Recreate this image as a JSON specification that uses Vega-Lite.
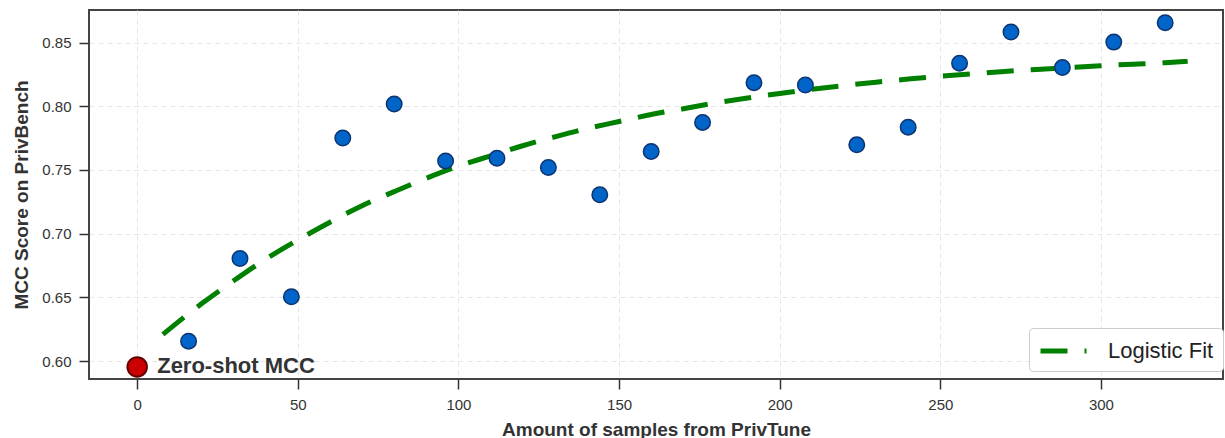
{
  "$schema": "https://vega.github.io/schema/vega-lite/v6.json",
  "width": 1134,
  "height": 369,
  "autosize": {"type": "none"},
  "padding": {"left": 89, "top": 10, "right": 2, "bottom": 59},
  "background": "white",
  "config": {
    "font": "Liberation Sans",
    "view": {"stroke": "#444444", "strokeWidth": 2},
    "axis": {
      "domain": false,
      "grid": true,
      "gridColor": "#e6e6e6",
      "gridDash": [5, 4],
      "gridWidth": 1,
      "tickColor": "#333333",
      "tickWidth": 1.5,
      "tickSize": 10,
      "labelFontSize": 15,
      "labelColor": "#333333",
      "titleFontSize": 19,
      "titleFontWeight": "bold",
      "titleColor": "#333333"
    }
  },
  "datasets": {
    "fit": [
      {"x": 8, "y": 0.621, "series": "Logistic Fit"},
      {"x": 20, "y": 0.645, "series": "Logistic Fit"},
      {"x": 30, "y": 0.663, "series": "Logistic Fit"},
      {"x": 40, "y": 0.680, "series": "Logistic Fit"},
      {"x": 50, "y": 0.695, "series": "Logistic Fit"},
      {"x": 60, "y": 0.709, "series": "Logistic Fit"},
      {"x": 70, "y": 0.722, "series": "Logistic Fit"},
      {"x": 80, "y": 0.733, "series": "Logistic Fit"},
      {"x": 90, "y": 0.7435, "series": "Logistic Fit"},
      {"x": 100, "y": 0.753, "series": "Logistic Fit"},
      {"x": 110, "y": 0.761, "series": "Logistic Fit"},
      {"x": 120, "y": 0.769, "series": "Logistic Fit"},
      {"x": 130, "y": 0.776, "series": "Logistic Fit"},
      {"x": 140, "y": 0.7825, "series": "Logistic Fit"},
      {"x": 150, "y": 0.788, "series": "Logistic Fit"},
      {"x": 160, "y": 0.7935, "series": "Logistic Fit"},
      {"x": 170, "y": 0.798, "series": "Logistic Fit"},
      {"x": 180, "y": 0.8026, "series": "Logistic Fit"},
      {"x": 190, "y": 0.8065, "series": "Logistic Fit"},
      {"x": 200, "y": 0.810, "series": "Logistic Fit"},
      {"x": 210, "y": 0.8133, "series": "Logistic Fit"},
      {"x": 220, "y": 0.8162, "series": "Logistic Fit"},
      {"x": 230, "y": 0.8189, "series": "Logistic Fit"},
      {"x": 240, "y": 0.8213, "series": "Logistic Fit"},
      {"x": 250, "y": 0.8235, "series": "Logistic Fit"},
      {"x": 260, "y": 0.8255, "series": "Logistic Fit"},
      {"x": 270, "y": 0.8273, "series": "Logistic Fit"},
      {"x": 280, "y": 0.8289, "series": "Logistic Fit"},
      {"x": 290, "y": 0.8304, "series": "Logistic Fit"},
      {"x": 300, "y": 0.8318, "series": "Logistic Fit"},
      {"x": 310, "y": 0.833, "series": "Logistic Fit"},
      {"x": 320, "y": 0.8341, "series": "Logistic Fit"},
      {"x": 327, "y": 0.8352, "series": "Logistic Fit"}
    ],
    "points": [
      {"x": 16, "y": 0.6157},
      {"x": 32, "y": 0.6805},
      {"x": 48, "y": 0.6505},
      {"x": 64, "y": 0.775},
      {"x": 80, "y": 0.8017},
      {"x": 96, "y": 0.7571},
      {"x": 112, "y": 0.7592},
      {"x": 128, "y": 0.7519},
      {"x": 144, "y": 0.7306},
      {"x": 160, "y": 0.7645},
      {"x": 176, "y": 0.7873},
      {"x": 192, "y": 0.8185},
      {"x": 208, "y": 0.8167},
      {"x": 224, "y": 0.7697},
      {"x": 240, "y": 0.7836},
      {"x": 256, "y": 0.8338},
      {"x": 272, "y": 0.8582},
      {"x": 288, "y": 0.8303},
      {"x": 304, "y": 0.8503},
      {"x": 320, "y": 0.8655}
    ],
    "zeroshot": [
      {"x": 0, "y": 0.5955, "label": "Zero-shot MCC"}
    ]
  },
  "encoding": {
    "x": {
      "field": "x",
      "type": "quantitative",
      "scale": {"domain": [-15, 338], "nice": false, "zero": false},
      "axis": {"values": [0, 50, 100, 150, 200, 250, 300], "title": "Amount of samples from PrivTune", "labelPadding": 8, "titlePadding": 8}
    },
    "y": {
      "field": "y",
      "type": "quantitative",
      "scale": {"domain": [0.586, 0.8755], "nice": false, "zero": false},
      "axis": {"values": [0.6, 0.65, 0.7, 0.75, 0.8, 0.85], "format": ".2f", "title": "MCC Score on PrivBench", "labelPadding": 8, "titlePadding": 10}
    }
  },
  "layer": [
    {
      "data": {"name": "fit"},
      "mark": {"type": "line", "strokeWidth": 5, "strokeDash": [27, 17], "interpolate": "monotone"},
      "encoding": {
        "color": {
          "field": "series",
          "type": "nominal",
          "scale": {"domain": ["Logistic Fit"], "range": ["#008000"]},
          "legend": {
            "title": null,
            "orient": "none",
            "legendX": 940,
            "legendY": 318,
            "padding": 9,
            "strokeColor": "#cccccc",
            "fillColor": "white",
            "cornerRadius": 4,
            "labelFontSize": 22,
            "labelColor": "#222222",
            "labelOffset": 42,
            "symbolType": "M-1,0H3",
            "symbolSize": 529,
            "symbolStrokeWidth": 5,
            "symbolDash": [27, 17]
          }
        }
      }
    },
    {
      "data": {"name": "points"},
      "mark": {"type": "point", "filled": true, "size": 240, "fill": "#0064c8", "stroke": "#0d3470", "strokeWidth": 1.5, "opacity": 1}
    },
    {
      "data": {"name": "zeroshot"},
      "mark": {"type": "point", "filled": true, "size": 380, "fill": "#cc0000", "stroke": "#660000", "strokeWidth": 2, "opacity": 1}
    },
    {
      "data": {"name": "zeroshot"},
      "mark": {"type": "text", "align": "left", "baseline": "middle", "dx": 20, "dy": -1, "fontSize": 22, "fontWeight": "bold", "color": "#333333"},
      "encoding": {"text": {"field": "label"}}
    }
  ]
}
